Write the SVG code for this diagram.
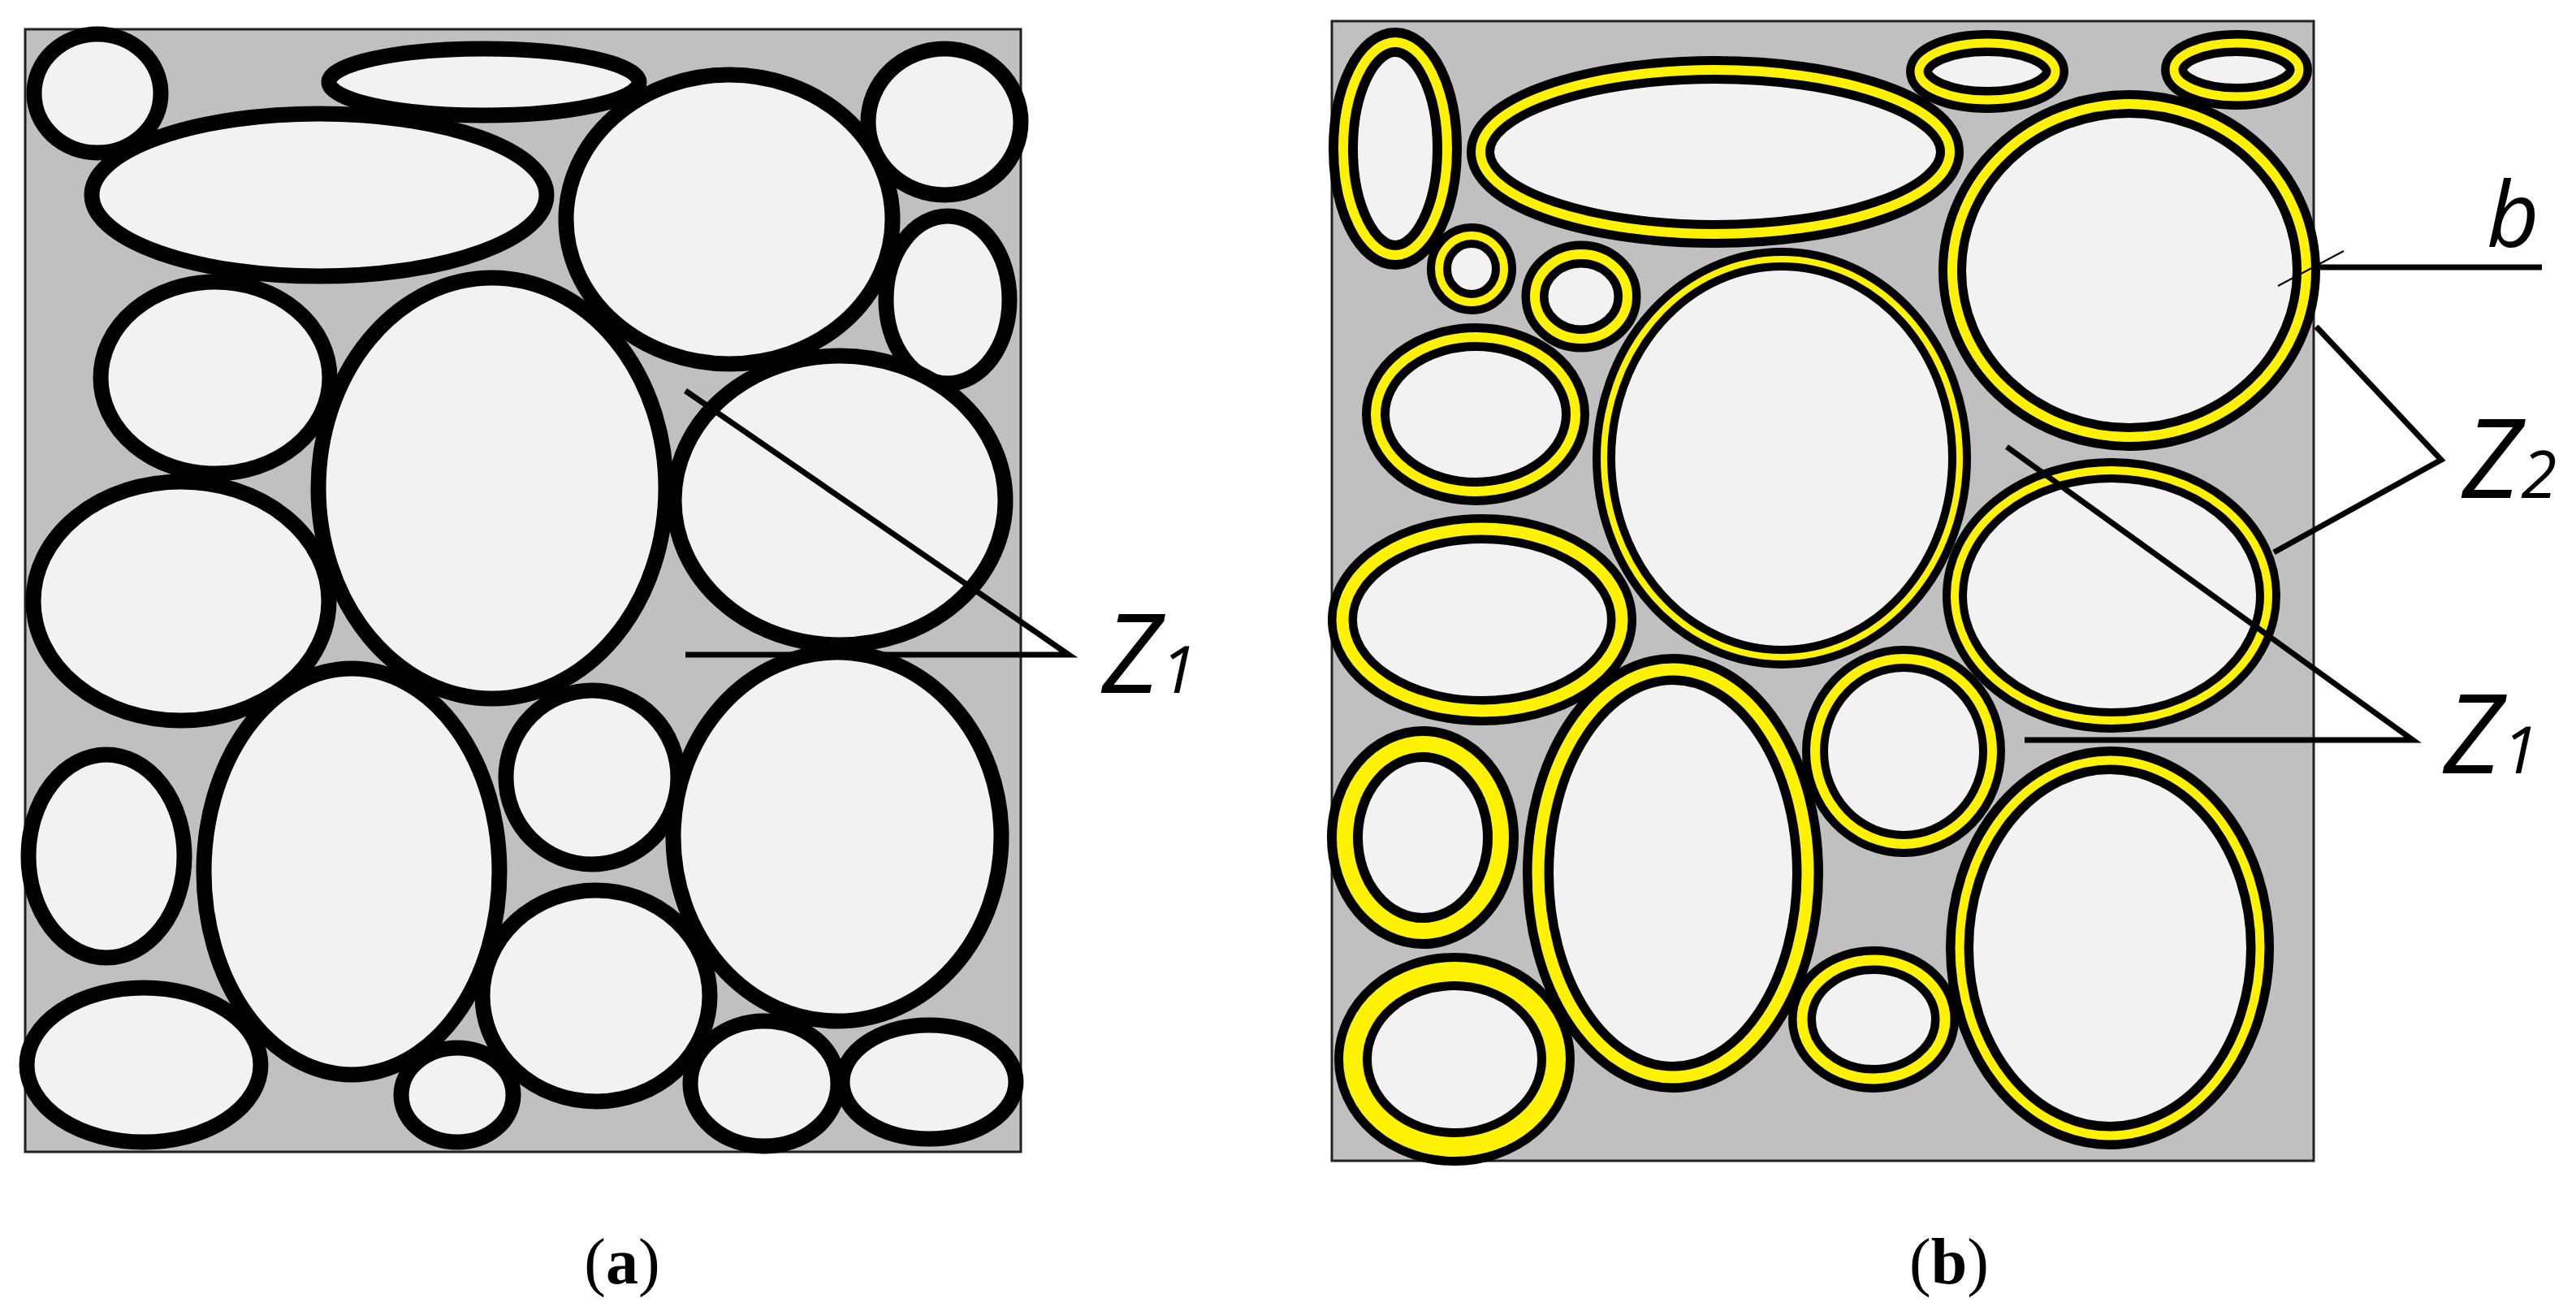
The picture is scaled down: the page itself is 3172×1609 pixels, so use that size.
<svg xmlns="http://www.w3.org/2000/svg" width="3172" height="1609" viewBox="0 0 3172 1609">
<style>
.frame{fill:#c0c0c0;stroke:#222;stroke-width:3}
.a{fill:#f2f2f2;stroke:#000;stroke-width:19}
.bk{fill:#f2f2f2;stroke:#000}
.yl{fill:none;stroke:#fff200}
.ld{fill:none;stroke:#000;stroke-width:7;stroke-linejoin:miter}
.lbl{font-family:"Open Sans","Liberation Sans",sans-serif;font-style:italic;fill:#000}
.cap{font-family:"Liberation Serif","Times New Roman",serif;font-size:80px;fill:#000;text-anchor:middle}
</style>
<rect x="0" y="0" width="3172" height="1609" fill="#fff"/>
<g id="panel-a">
<rect class="frame" x="31" y="36" width="1226" height="1382"/>
<ellipse class="a" cx="120" cy="115" rx="78" ry="73"/>
<ellipse class="a" cx="596" cy="101" rx="191" ry="41"/>
<ellipse class="a" cx="393" cy="240" rx="280" ry="100"/>
<ellipse class="a" cx="898" cy="270" rx="201" ry="178"/>
<ellipse class="a" cx="1163" cy="150" rx="94" ry="90"/>
<ellipse class="a" cx="1167" cy="369" rx="76" ry="103"/>
<ellipse class="a" cx="265" cy="465" rx="141" ry="118"/>
<ellipse class="a" cx="606" cy="601" rx="214" ry="259"/>
<ellipse class="a" cx="1034" cy="616" rx="204" ry="178"/>
<ellipse class="a" cx="223" cy="740" rx="182" ry="147"/>
<ellipse class="a" cx="131" cy="1054" rx="96" ry="125"/>
<ellipse class="a" cx="433" cy="1073" rx="182" ry="250"/>
<ellipse class="a" cx="729" cy="957" rx="106" ry="107"/>
<ellipse class="a" cx="1031" cy="1030" rx="202" ry="227"/>
<ellipse class="a" cx="734" cy="1226" rx="140" ry="130"/>
<ellipse class="a" cx="177" cy="1311" rx="144" ry="95"/>
<ellipse class="a" cx="563" cy="1348" rx="69" ry="58"/>
<ellipse class="a" cx="941" cy="1334" rx="91" ry="77"/>
<ellipse class="a" cx="1144" cy="1332" rx="107" ry="70"/>
</g>
<g id="panel-b">
<rect class="frame" x="1640" y="26" width="1209" height="1403"/>
<g><ellipse class="bk" cx="1718" cy="183" rx="64" ry="131" stroke-width="36"/><ellipse class="yl" cx="1718" cy="183" rx="64" ry="131" stroke-width="12"/></g>
<g><ellipse class="bk" cx="2112" cy="187" rx="289" ry="101" stroke-width="34"/><ellipse class="yl" cx="2112" cy="187" rx="289" ry="101" stroke-width="12"/></g>
<g><ellipse class="bk" cx="2447" cy="88" rx="84" ry="35" stroke-width="32"/><ellipse class="yl" cx="2447" cy="88" rx="84" ry="35" stroke-width="11"/></g>
<g><ellipse class="bk" cx="2754" cy="86" rx="77" ry="33" stroke-width="32"/><ellipse class="yl" cx="2754" cy="86" rx="77" ry="33" stroke-width="11"/></g>
<g><ellipse class="bk" cx="2622" cy="333" rx="218" ry="205" stroke-width="34"/><ellipse class="yl" cx="2622" cy="333" rx="218" ry="205" stroke-width="12"/></g>
<g><ellipse class="bk" cx="1812" cy="331" rx="40" ry="41" stroke-width="30"/><ellipse class="yl" cx="1812" cy="331" rx="40" ry="41" stroke-width="10"/></g>
<g><ellipse class="bk" cx="1947" cy="365" rx="57" ry="52" stroke-width="33"/><ellipse class="yl" cx="1947" cy="365" rx="57" ry="52" stroke-width="12"/></g>
<g><ellipse class="bk" cx="2194" cy="564" rx="219" ry="245" stroke-width="28"/><ellipse class="yl" cx="2194" cy="564" rx="219" ry="245" stroke-width="8"/></g>
<g><ellipse class="bk" cx="1817" cy="510" rx="123" ry="95" stroke-width="34"/><ellipse class="yl" cx="1817" cy="510" rx="123" ry="95" stroke-width="12"/></g>
<g><ellipse class="bk" cx="1825" cy="763" rx="172" ry="112" stroke-width="36"/><ellipse class="yl" cx="1825" cy="763" rx="172" ry="112" stroke-width="15"/></g>
<g><ellipse class="bk" cx="2600" cy="733" rx="193" ry="154" stroke-width="30"/><ellipse class="yl" cx="2600" cy="733" rx="193" ry="154" stroke-width="10"/></g>
<g><ellipse class="bk" cx="2060" cy="1075" rx="166" ry="251" stroke-width="38"/><ellipse class="yl" cx="2060" cy="1075" rx="166" ry="251" stroke-width="15"/></g>
<g><ellipse class="bk" cx="2344" cy="925" rx="109" ry="114" stroke-width="32"/><ellipse class="yl" cx="2344" cy="925" rx="109" ry="114" stroke-width="12"/></g>
<g><ellipse class="bk" cx="1752" cy="1031" rx="96" ry="115" stroke-width="44"/><ellipse class="yl" cx="1752" cy="1031" rx="96" ry="115" stroke-width="20"/></g>
<g><ellipse class="bk" cx="1791" cy="1304" rx="125" ry="108" stroke-width="46"/><ellipse class="yl" cx="1791" cy="1304" rx="125" ry="108" stroke-width="24"/></g>
<g><ellipse class="bk" cx="2307" cy="1255" rx="88" ry="73" stroke-width="34"/><ellipse class="yl" cx="2307" cy="1255" rx="88" ry="73" stroke-width="13"/></g>
<g><ellipse class="bk" cx="2598" cy="1167" rx="185" ry="231" stroke-width="34"/><ellipse class="yl" cx="2598" cy="1167" rx="185" ry="231" stroke-width="11"/></g>
</g>
<g id="connectors">
<polyline class="ld" points="844,481 1316,806 844,806"/>
<polyline class="ld" points="2852,402 3006,566 2800,680"/>
<polyline class="ld" points="2471,550 2971,911 2493,911"/>
<line class="ld" x1="2852" y1="329" x2="3130" y2="329"/>
<line x1="2805" y1="352" x2="2886" y2="309" stroke="#000" stroke-width="2"/>
</g>
<g id="labels">
<text class="lbl" x="1357" y="853" font-size="136">Z<tspan font-size="80">1</tspan></text>
<text class="lbl" x="3032" y="613" font-size="136">Z<tspan font-size="80">2</tspan></text>
<text class="lbl" x="3009" y="952" font-size="136">Z<tspan font-size="80">1</tspan></text>
<text class="lbl" x="3062" y="304" font-size="112">b</text>
<text class="cap" x="766" y="1580">(<tspan font-weight="bold">a</tspan>)</text>
<text class="cap" x="2400" y="1580">(<tspan font-weight="bold">b</tspan>)</text>
</g>
</svg>
